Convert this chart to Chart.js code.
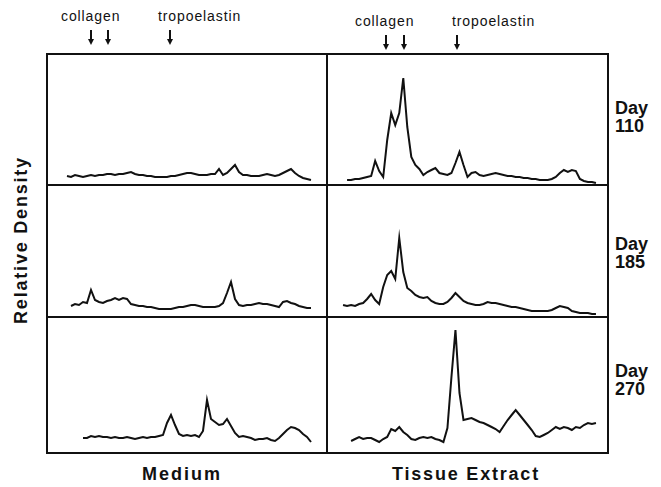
<!DOCTYPE html>
<html>
<head>
<meta charset="utf-8">
<script src="https://cdn.jsdelivr.net/npm/chart.js@4.4.0/dist/chart.umd.min.js"></script>
<style>
  html, body { margin: 0; padding: 0; background: #fff; }
  #fig { position: relative; width: 661px; height: 487px; overflow: hidden;
         font-family: 'Liberation Sans', Arial, sans-serif; color: #111; }
  .panel { position: absolute; }
  .rule { position: absolute; background: #111; }
  .lbl { position: absolute; font-size: 14px; line-height: 14px; letter-spacing: 0.9px; white-space: nowrap; }
  .day { position: absolute; left: 615px; font-weight: bold; font-size: 18px; line-height: 18px; }
  .title { position: absolute; width: 200px; height: 20px; line-height: 20px; text-align: center;
           font-weight: bold; font-size: 18px; white-space: nowrap; }
  .arrow { position: absolute; width: 6px; height: 16px; }
  .arrow::before { content: ''; position: absolute; left: 2px; top: 0; width: 2px; height: 10px; background: #111; }
  .arrow::after { content: ''; position: absolute; left: 0; top: 9px;
                  border-left: 3px solid transparent; border-right: 3px solid transparent; border-top: 6px solid #111; }
</style>
</head>
<body>
<div id="fig">
  <!-- marker labels -->
  <div class="lbl" style="left:61px;top:9px">collagen</div>
  <div class="lbl" style="left:158px;top:9px">tropoelastin</div>
  <div class="lbl" style="left:355px;top:14px">collagen</div>
  <div class="lbl" style="left:452px;top:14px">tropoelastin</div>
  <div class="arrow" style="left:88px;top:30px"></div>
  <div class="arrow" style="left:105px;top:30px"></div>
  <div class="arrow" style="left:167px;top:30px"></div>
  <div class="arrow" style="left:383px;top:35px"></div>
  <div class="arrow" style="left:401px;top:35px"></div>
  <div class="arrow" style="left:454px;top:35px"></div>

  <!-- scan panels -->
  <div class="panel" style="left:47px;top:54px;width:280px;height:131px"><canvas id="m110"></canvas></div>
  <div class="panel" style="left:327px;top:54px;width:281px;height:131px"><canvas id="t110"></canvas></div>
  <div class="panel" style="left:47px;top:185px;width:280px;height:132px"><canvas id="m185"></canvas></div>
  <div class="panel" style="left:327px;top:185px;width:281px;height:132px"><canvas id="t185"></canvas></div>
  <div class="panel" style="left:47px;top:317px;width:280px;height:136px"><canvas id="m270"></canvas></div>
  <div class="panel" style="left:327px;top:317px;width:281px;height:136px"><canvas id="t270"></canvas></div>

  <!-- frame -->
  <div class="rule" style="left:46px;top:53px;width:563px;height:2px"></div>
  <div class="rule" style="left:46px;top:452px;width:563px;height:2px"></div>
  <div class="rule" style="left:46px;top:53px;width:2px;height:401px"></div>
  <div class="rule" style="left:607px;top:53px;width:2px;height:401px"></div>
  <div class="rule" style="left:326px;top:53px;width:2px;height:401px"></div>
  <div class="rule" style="left:46px;top:184px;width:563px;height:2px"></div>
  <div class="rule" style="left:46px;top:316px;width:563px;height:2px"></div>

  <!-- row / column titles -->
  <div class="day" style="top:99px">Day<br>110</div>
  <div class="day" style="top:235px">Day<br>185</div>
  <div class="day" style="top:362px">Day<br>270</div>
  <div class="title" style="left:-79px;top:230px;transform:rotate(-90deg);letter-spacing:1.8px">Relative Density</div>
  <div class="title" style="left:82px;top:464px;letter-spacing:2px">Medium</div>
  <div class="title" style="left:366px;top:464px;letter-spacing:1.8px">Tissue Extract</div>
</div>

<script>
// Densitometer scans, relative density sampled every 4 units along the gel (71 positions)
const medium110 = [null, null, null, null, null,
  9, 8, 10, 9, 8, 9, 10, 9, 10, 10, 11, 11, 10, 11, 11, 12, 13, 11, 10, 10,
  9, 9, 8, 8, 8, 8, 9, 9, 10, 11, 12, 12, 11, 10, 10, 10, 11, 11, 16, 10,
  12, 16, 20, 13, 10, 10, 9, 9, 9, 10, 11, 10, 9, 10, 12, 14, 16, 12, 9, 7,
  6, 5, null, null, null, null];

const tissue110 = [null, null, null, null, null,
  5, 5, 6, 6, 7, 8, 9, 24, 14, 8, 45, 72, 60, 72, 107, 58, 28, 20, 16, 10,
  13, 15, 17, 12, 11, 10, 12, 22, 33, 20, 8, 12, 13, 10, 9, 10, 11, 12, 11, 10,
  9, 9, 8, 8, 7, 7, 6, 6, 5, 5, 5, 6, 8, 12, 15, 13, 15, 14, 6, 4,
  3, 3, 2, null, null, null];

const medium185 = [null, null, null, null, null, null,
  11, 13, 12, 15, 14, 27, 17, 15, 14, 16, 17, 19, 17, 19, 18, 13, 12, 11, 11,
  10, 10, 9, 8, 8, 8, 8, 9, 10, 10, 11, 12, 12, 11, 10, 10, 10, 10, 11, 14,
  24, 35, 18, 12, 11, 12, 12, 13, 14, 13, 13, 12, 11, 10, 15, 16, 14, 13, 11, 10,
  9, 9, null, null, null, null];

const tissue185 = [null, null, null, null,
  12, 11, 12, 11, 13, 14, 18, 23, 17, 13, 30, 42, 46, 38, 79, 45, 29, 26, 22, 20, 19,
  20, 16, 14, 13, 13, 15, 19, 24, 20, 16, 14, 13, 12, 12, 13, 15, 14, 14, 13, 12,
  11, 10, 10, 9, 8, 7, 6, 6, 6, 6, 6, 7, 9, 11, 10, 9, 6, 5, 4, 4,
  4, 3, 3, null, null, null];

const medium270 = [null, null, null, null, null, null, null, null, null,
  15, 15, 17, 16, 17, 16, 16, 15, 16, 15, 15, 16, 15, 14, 15, 16,
  15, 16, 16, 17, 18, 30, 38, 28, 19, 17, 18, 17, 18, 16, 22, 53, 34, 31, 28, 29,
  34, 27, 20, 16, 17, 16, 15, 13, 14, 14, 15, 13, 12, 15, 19, 23, 26, 25, 23, 19,
  16, 11, null, null, null, null];

const tissue270 = [null, null, null, null, null, null,
  12, 14, 16, 14, 15, 15, 13, 11, 14, 16, 24, 22, 26, 21, 18, 14, 13, 15, 16,
  15, 16, 14, 13, 11, 25, 76, 123, 60, 33, 34, 35, 33, 31, 30, 28, 26, 24, 21, 27,
  33, 38, 43, 38, 33, 28, 23, 17, 16, 18, 20, 23, 26, 24, 26, 25, 23, 26, 25, 28,
  30, 29, 30, null, null, null];

const scanPositions = Array.from({ length: medium110.length }, (_, i) => i * 4);

function drawScan(canvasId, values, top) {
  const ctx = document.getElementById(canvasId);
  return new Chart(ctx, {
    type: 'line',
    data: {
      labels: scanPositions,
      datasets: [{
        data: values,
        borderColor: '#111',
        borderWidth: 2,
        pointRadius: 0,
        tension: 0,
        spanGaps: false,
        fill: false
      }]
    },
    options: {
      responsive: true,
      maintainAspectRatio: false,
      animation: false,
      layout: { padding: 0 },
      plugins: { legend: { display: false }, tooltip: { enabled: false } },
      scales: {
        x: { display: false, offset: false },
        y: { display: false, min: 0, max: top }
      }
    }
  });
}

drawScan('m110', medium110, 131);
drawScan('t110', tissue110, 131);
drawScan('m185', medium185, 132);
drawScan('t185', tissue185, 132);
drawScan('m270', medium270, 136);
drawScan('t270', tissue270, 136);
</script>
</body>
</html>
